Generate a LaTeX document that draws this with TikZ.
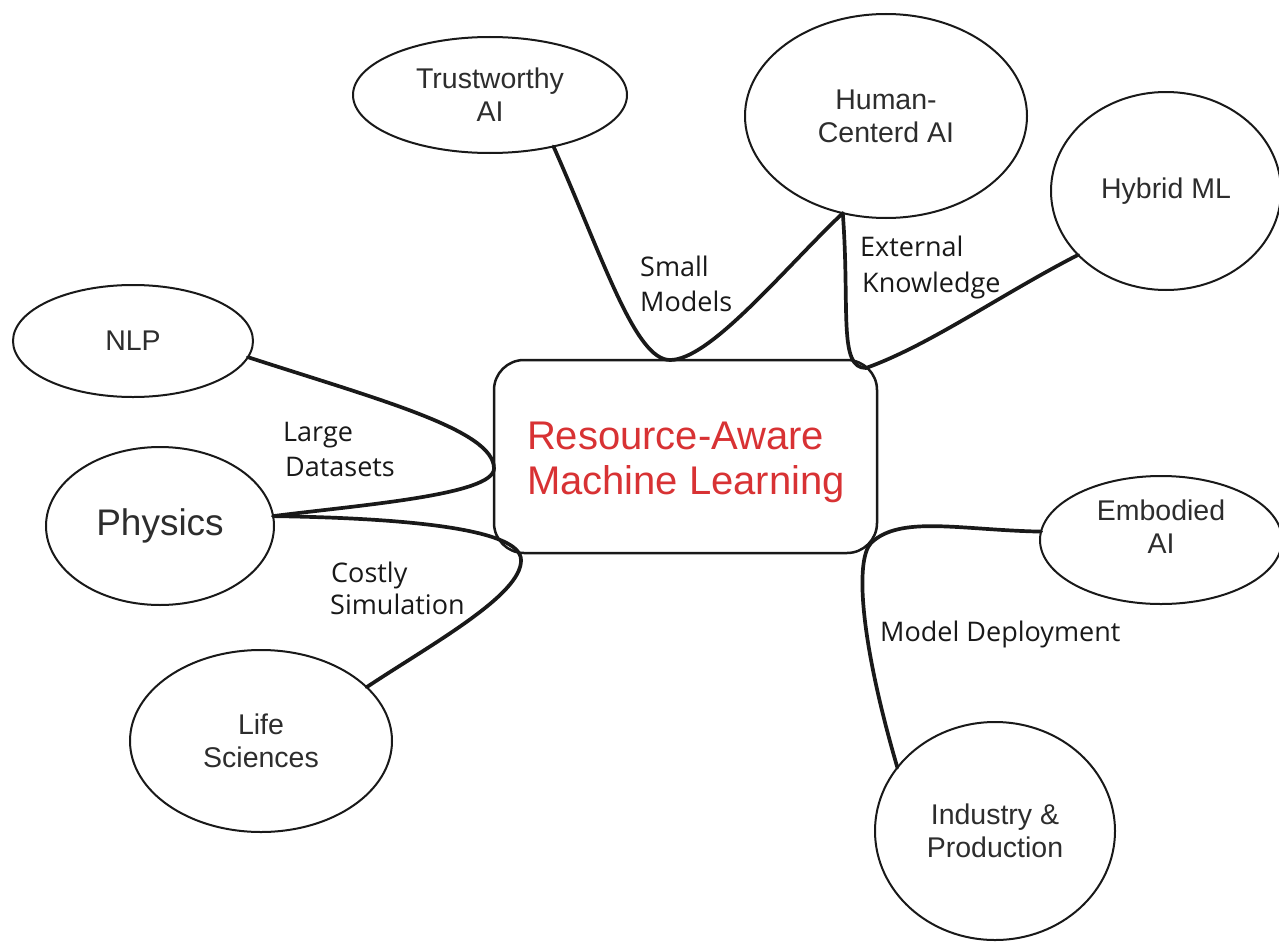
\documentclass[tikz,border=0pt]{standalone}
\usepackage{fontspec}
\setmainfont{Liberation Sans}
\newfontfamily\handfont{Open Sans}
\usetikzlibrary{shapes.geometric}
\definecolor{redtext}{RGB}{216,50,52}
\definecolor{inktext}{RGB}{45,45,45}
\definecolor{ink}{RGB}{25,25,25}
\begin{document}
\begin{tikzpicture}[x=1pt,y=-1pt,
  bubble/.style={ellipse, draw=ink, line width=2pt, inner sep=0pt, outer sep=0pt, align=center, text=inktext, font=\fontsize{28.5}{33}\selectfont},
  bubbletext/.style={inner sep=0pt, align=center, text=inktext, font=\fontsize{28.5}{33}\selectfont},
  link/.style={draw=ink, line width=3.7pt, line cap=round},
  lbl/.style={anchor=base west, font=\handfont\fontsize{27}{32}\selectfont, text=ink, inner sep=0pt}
]
\fill[white] (0,0) rectangle (1279,942);
\useasboundingbox (0,0) rectangle (1279,942);

% central box
\node[draw=ink, line width=2.5pt, rounded corners=30pt, minimum width=383pt, minimum height=193pt,
      inner sep=0pt, outer sep=0pt] (main) at (685.5,456.5) {};
\node[inner sep=0pt, align=left, text=redtext, font=\fontsize{40}{45}\selectfont]
      (maintext) at (686,462) {Resource-Aware\\Machine Learning};

% bubbles
\node[bubble, minimum width=274pt, minimum height=116pt] (trust) at (490,95) {Trustworthy\\AI};
\node[bubble, minimum width=282pt, minimum height=204pt] (human) at (886,116) {Human-\\Centerd AI};
\node[bubble, minimum width=230pt, minimum height=198pt] (hybrid) at (1166,191) {Hybrid ML};
\node[bubble, minimum width=240pt, minimum height=112pt] (nlp) at (133,341) {NLP};
\node[bubble, minimum width=228pt, minimum height=158pt, font=\fontsize{37}{42}\selectfont] (phys) at (160,526) {Physics};
\node[bubble, minimum width=262pt, minimum height=182pt] (life) at (261,741) {Life\\Sciences};
\node[bubble, minimum width=242pt, minimum height=128pt] (emb) at (1161,540) {};
\node[bubbletext] (embtext) at (1161,527) {Embodied\\AI};
\node[bubble, minimum width=240pt, minimum height=218pt] (ind) at (995,831) {Industry \&\\Production};

% connectors
\draw[link] (trust.-39) .. controls (603,258) and (635,360) .. ([xshift=-15.5pt]main.north)
            .. controls (710,360) and (783,270) .. (human.-114);
\draw[link] (human.-114) .. controls (850,310) and (838,368) .. ([shift={(-11,8)}]main.north east)
            .. controls (930,345) and (1000,295) .. (hybrid.-144);
\draw[link] (nlp.-8) .. controls (380,400) and (494,430) .. ([yshift=-12pt]main.west)
            .. controls (494,495) and (360,505) .. (phys.5);
\draw[link] (phys.5) .. controls (400,518) and (521,528) .. ([shift={(27,7)}]main.south west)
            .. controls (522,595) and (430,645) .. (life.27);
\draw[link] (emb.176) .. controls (960,530) and (900,515) .. ([shift={(-6,-10)}]main.south east)
            .. controls (855,560) and (860,640) .. (ind.147);

% connector labels
\node[lbl] (sm1) at (640,276) {Small};
\node[lbl] (sm2) at (640,311) {Models};
\node[lbl] (ek1) at (860,256) {External};
\node[lbl] (ek2) at (862,292) {Knowledge};
\node[lbl] (ld1) at (283,441) {Large};
\node[lbl] (ld2) at (285,476) {Datasets};
\node[lbl] (cs1) at (331,582) {Costly};
\node[lbl] (cs2) at (330,614) {Simulation};
\node[lbl] (md) at (880,641) {Model Deployment};
\end{tikzpicture}
\end{document}
